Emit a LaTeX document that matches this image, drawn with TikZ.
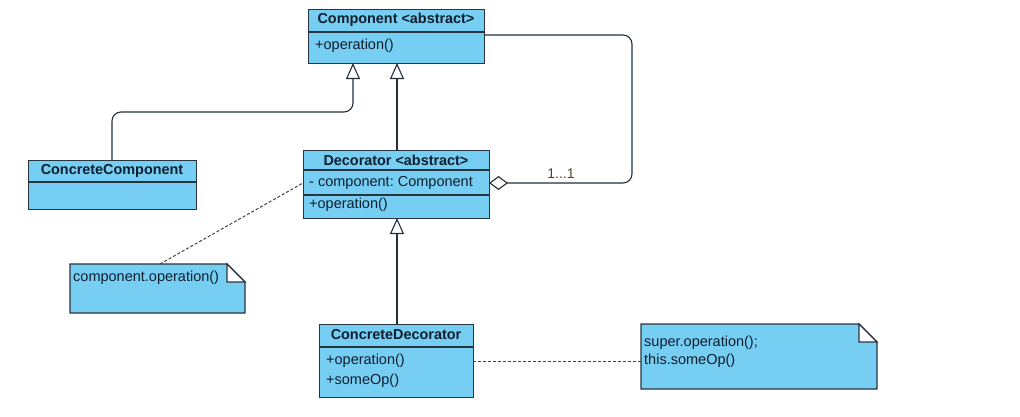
\documentclass[tikz,border=0pt]{standalone}
\usepackage{fontspec}
\setmainfont{Liberation Sans}
\usetikzlibrary{arrows.meta}
\frenchspacing
\definecolor{boxfill}{RGB}{118,206,243}
\definecolor{boxline}{RGB}{40,52,64}
\definecolor{txt}{RGB}{16,30,46}
\definecolor{multtxt}{RGB}{70,70,40}
\tikzset{
  umlbox/.style={draw=boxline, fill=boxfill, line width=1.2pt, rectangle, inner sep=0pt, anchor=north west},
  divider/.style={draw=boxline, line width=1.2pt},
  title/.style={font=\bfseries\fontsize{14.4}{17}\selectfont, text=txt, inner sep=0pt},
  member/.style={font=\fontsize{14.5}{17}\selectfont, text=txt, inner sep=0pt, anchor=west},
  conn/.style={draw=boxline!90!black, line width=1.1pt},
  inherit/.style={conn, -{Triangle[open, length=16pt, width=14pt, fill=white]}},
  aggreg/.style={conn, -{Diamond[open, length=19pt, width=14pt, fill=white]}},
  notelink/.style={draw=black!75, line width=1pt, dash pattern=on 3pt off 2pt},
  notebody/.style={draw=boxline, fill=boxfill, line width=1.2pt},
}
\begin{document}
\begin{tikzpicture}[x=1pt, y=-1pt]
\useasboundingbox (0,0) rectangle (1020,416);

% Component <abstract>
\node[umlbox, minimum width=176pt, minimum height=54pt] (comp) at (308,9) {};
\draw[divider] (308,32) -- (484,32);
\node[title] (compT) at (396,20) {Component <abstract>};
\node[member] (compOp) at (315,46) {+operation()};

% ConcreteComponent
\node[umlbox, minimum width=168pt, minimum height=49pt] (ccomp) at (28,160) {};
\draw[divider] (28,182) -- (196,182);
\node[title] (ccompT) at (112,171) {ConcreteComponent};

% Decorator <abstract>
\node[umlbox, minimum width=186pt, minimum height=68pt] (deco) at (303,150) {};
\draw[divider] (303,170) -- (489,170);
\draw[divider] (303,195) -- (489,195);
\node[title] (decoT) at (396,160) {Decorator <abstract>};
\node[member] (decoA) at (309,183) {- component: Component};
\node[member] (decoOp) at (309,205) {+operation()};

% ConcreteDecorator
\node[umlbox, minimum width=154pt, minimum height=73pt] (cdeco) at (319,324) {};
\draw[divider] (319,347) -- (473,347);
\node[title] (cdecoT) at (396,335) {ConcreteDecorator};
\node[member] (cdecoOp) at (326,361) {+operation()};
\node[member] (cdecoSome) at (326,381) {+someOp()};

% Note attached to Decorator
\draw[notebody] (70,264) -- (227,264) -- (245,282) -- (245,313) -- (70,313) -- cycle;
\draw[notebody, fill=white] (227,264) -- (227,282) -- (245,282) -- cycle;
\node[member] (note1) at (73,278) {component.operation()};
\coordinate (note1top) at (160,264);

% Note attached to ConcreteDecorator
\draw[notebody] (641,324) -- (859,324) -- (877,342) -- (877,389) -- (641,389) -- cycle;
\draw[notebody, fill=white] (859,324) -- (859,342) -- (877,342) -- cycle;
\node[member] (note2a) at (644,343) {super.operation();};
\node[member] (note2b) at (644,361) {this.someOp()};
\coordinate (note2left) at (641,361);

% Generalizations
\coordinate (compA) at (353,63);
\coordinate (compB) at (397,63);
\draw[inherit, rounded corners=9pt] (112,160) -- (112,112) -- (353,112) -- (compA);
\draw[inherit] (397,150) -- (compB);
\draw[inherit] (397,324) -- (397,218);

% Aggregation Component <>-- Decorator
\coordinate (aggStart) at (484,35);
\coordinate (aggEnd) at (489,183);
\draw[aggreg, rounded corners=9pt] (aggStart) -- (632,35) -- (632,183) -- (aggEnd);
\node[font=\fontsize{14}{16}\selectfont, text=multtxt, inner sep=0pt] (mult) at (561,174) {1...1};

% Note links
\draw[notelink] (note1top) -- (303,183);
\draw[notelink] (473,361) -- (note2left);
\end{tikzpicture}
\end{document}
